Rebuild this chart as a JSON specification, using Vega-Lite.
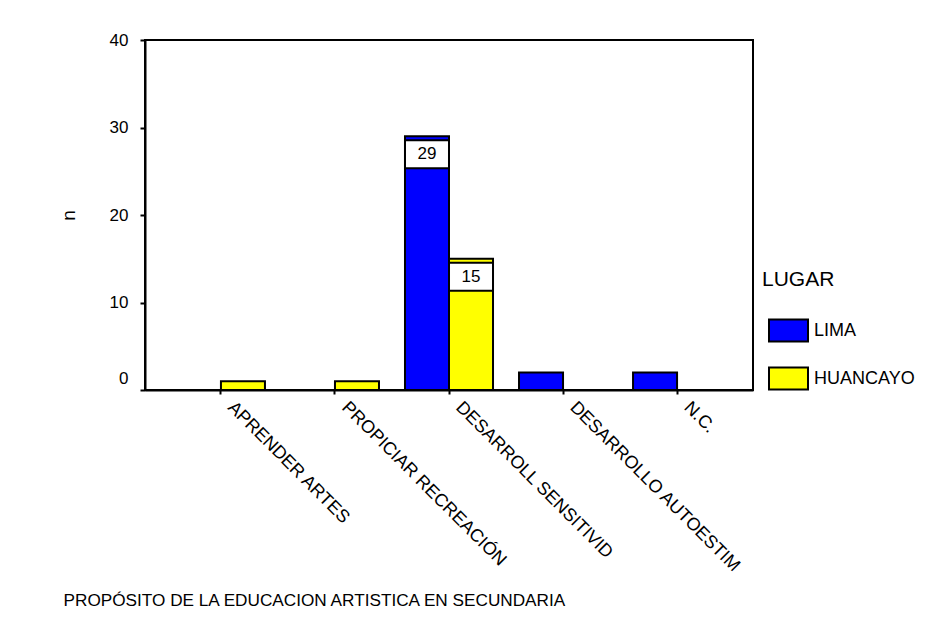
{
  "$schema": "https://vega.github.io/schema/vega-lite/v6.json",
  "width": 608,
  "height": 350,
  "autosize": "none",
  "padding": {"left": 145, "top": 40, "right": 182, "bottom": 234},
  "background": "white",
  "config": {
    "font": "Liberation Sans",
    "view": {"stroke": "black", "strokeWidth": 2}
  },
  "data": {
    "values": [
      {"cat": "APRENDER ARTES", "lugar": "HUANCAYO", "n": 1},
      {"cat": "PROPICIAR RECREACIÓN", "lugar": "HUANCAYO", "n": 1},
      {"cat": "DESARROLL SENSITIVID", "lugar": "LIMA", "n": 29},
      {"cat": "DESARROLL SENSITIVID", "lugar": "HUANCAYO", "n": 15},
      {"cat": "DESARROLLO AUTOESTIM", "lugar": "LIMA", "n": 2},
      {"cat": "N.C.", "lugar": "LIMA", "n": 2}
    ]
  },
  "encoding": {
    "x": {
      "field": "cat",
      "type": "nominal",
      "scale": {
        "domain": ["APRENDER ARTES", "PROPICIAR RECREACIÓN", "DESARROLL SENSITIVID", "DESARROLLO AUTOESTIM", "N.C."],
        "paddingInner": 0.228,
        "paddingOuter": 0.28
      },
      "axis": {
        "title": "PROPÓSITO DE LA EDUCACION ARTISTICA EN SECUNDARIA",
        "titleFontSize": 17.2,
        "titleFontWeight": "normal",
        "titleColor": "black",
        "titleX": -82,
        "titleY": 210,
        "titleAlign": "left",
        "titleAnchor": "start",
        "titleBaseline": "middle",
        "labelAngle": 45,
        "labelAlign": "left",
        "labelBaseline": "top",
        "labelFontSize": 18,
        "labelColor": "black",
        "labelPadding": 4,
        "labelOffset": 16,
        "labelLimit": 300,
        "tickSize": 4,
        "tickWidth": 2,
        "tickColor": "black",
        "domainColor": "black",
        "domainWidth": 2
      }
    },
    "xOffset": {"field": "lugar", "type": "nominal", "scale": {"domain": ["LIMA", "HUANCAYO"]}},
    "y": {
      "field": "n",
      "type": "quantitative",
      "scale": {"domain": [0, 40]},
      "axis": {
        "values": [0, 10, 20, 30, 40],
        "grid": false,
        "title": "n",
        "titleFontSize": 19,
        "titleFontWeight": "normal",
        "titleColor": "black",
        "titleX": -77,
        "titleY": 175,
        "titleAngle": -90,
        "titleAlign": "center",
        "titleBaseline": "middle",
        "labelFontSize": 17,
        "labelColor": "black",
        "labelPadding": 12,
        "labelOffset": {"condition": {"test": "datum.value == 0", "value": -12}, "value": 0},
        "tickSize": 5,
        "tickWidth": 2,
        "tickColor": "black",
        "domainColor": "black",
        "domainWidth": 2
      }
    }
  },
  "layer": [
    {
      "mark": {"type": "bar", "stroke": "black", "strokeWidth": 2},
      "encoding": {
        "color": {
          "field": "lugar",
          "type": "nominal",
          "scale": {"domain": ["LIMA", "HUANCAYO"], "range": ["#0000ff", "#ffff00"]},
          "legend": {
            "orient": "none",
            "legendX": 617,
            "legendY": 229,
            "title": "LUGAR",
            "titleFontSize": 21,
            "titleFontWeight": "normal",
            "titleColor": "black",
            "titlePadding": 20,
            "labelFontSize": 18,
            "labelColor": "black",
            "labelOffset": 5,
            "symbolType": "M-1,-0.564H1V0.564H-1Z",
            "symbolSize": 1521,
            "symbolStrokeColor": "black",
            "symbolStrokeWidth": 2,
            "symbolOpacity": 1,
            "symbolOffset": 6,
            "rowPadding": 12
          }
        }
      }
    },
    {
      "transform": [{"filter": "datum.n > 10"}],
      "mark": {
        "type": "point",
        "shape": "M-1,-0.636H1V0.636H-1Z",
        "size": 1936,
        "filled": true,
        "fill": "white",
        "stroke": "black",
        "strokeWidth": 2,
        "opacity": 1,
        "yOffset": 18
      },
      "encoding": {}
    },
    {
      "transform": [{"filter": "datum.n > 10"}],
      "mark": {"type": "text", "yOffset": 18, "fontSize": 17, "color": "black", "align": "center", "baseline": "middle"},
      "encoding": {"text": {"field": "n", "type": "quantitative"}}
    }
  ]
}
